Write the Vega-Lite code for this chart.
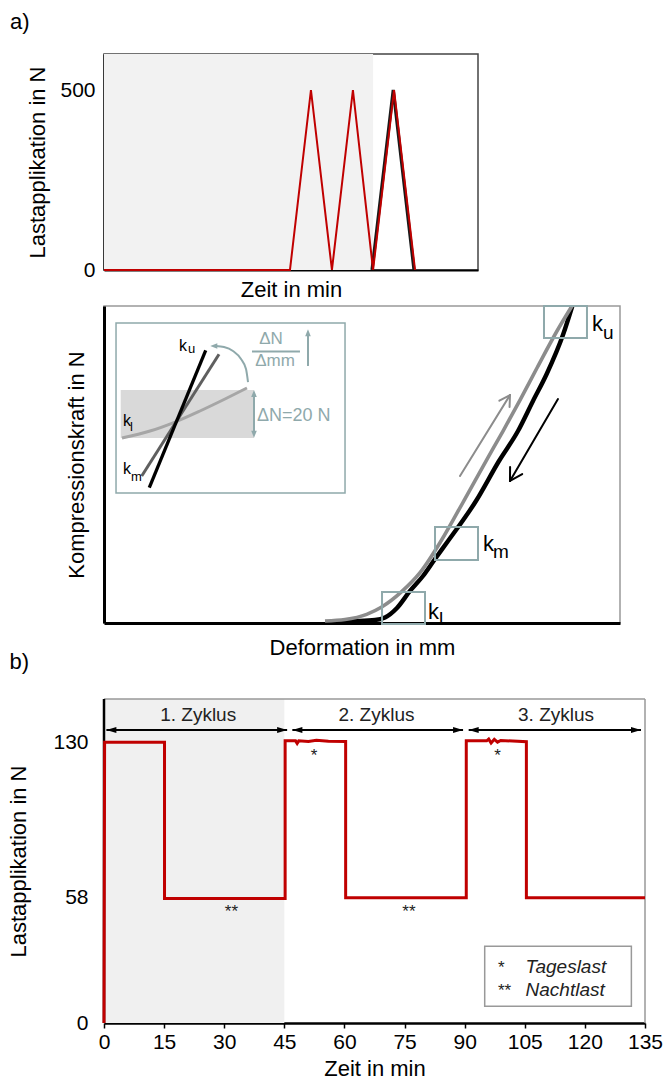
{
  "$schema": "https://vega.github.io/schema/vega-lite/v6.json",
  "background": "white",
  "padding": {"left": 7, "top": 10, "right": 5, "bottom": 0},
  "bounds": "flush",
  "spacing": 36,
  "resolve": {"scale": {"shape": "independent", "color": "independent"}},
  "config": {
    "font": "Liberation Sans",
    "axis": {
      "labelFont": "Liberation Sans",
      "titleFont": "Liberation Sans",
      "labelFontSize": 21,
      "titleFontSize": 22,
      "titleFontWeight": "normal",
      "labelColor": "#000",
      "titleColor": "#000",
      "domainColor": "#000",
      "grid": false
    },
    "text": {"font": "Liberation Sans", "color": "#000"}
  },
  "vconcat": [
    {
      "width": 374,
      "height": 216,
      "view": {"stroke": "#444", "strokeWidth": 1.5},
      "layer": [
        {
          "data": {"values": [{"t0": 0, "t1": 12.95, "F0": 0, "F1": 600}]},
          "mark": {"type": "rect", "color": "#f2f2f2"},
          "encoding": {
            "x": {"field": "t0", "type": "quantitative", "scale": {"domain": [0, 18], "nice": false, "zero": false},
              "axis": {"title": "Zeit in min", "labels": false, "ticks": false, "domainWidth": 2, "titlePadding": 9}},
            "x2": {"field": "t1"},
            "y": {"field": "F0", "type": "quantitative", "scale": {"domain": [0, 600], "nice": false},
              "axis": {"title": "Lastapplikation in N", "values": [0, 500], "ticks": false, "labelPadding": 9, "domainWidth": 2, "titlePadding": 10}},
            "y2": {"field": "F1"}
          }
        },
        {
          "data": {"values": [
            {"t": 12.9, "F": 0}, {"t": 13.92, "F": 500}, {"t": 14.92, "F": 0}
          ]},
          "mark": {"type": "line", "color": "#1a1a1a", "strokeWidth": 3.2},
          "encoding": {
            "x": {"field": "t", "type": "quantitative"},
            "y": {"field": "F", "type": "quantitative"}
          }
        },
        {
          "data": {"values": [
            {"t": 0, "F": 0}, {"t": 8.95, "F": 0}, {"t": 9.96, "F": 500}, {"t": 10.97, "F": 0},
            {"t": 11.98, "F": 500}, {"t": 12.95, "F": 0}, {"t": 13.96, "F": 500}, {"t": 14.97, "F": 0}
          ]},
          "mark": {"type": "line", "color": "#c00000", "strokeWidth": 2},
          "encoding": {
            "x": {"field": "t", "type": "quantitative"},
            "y": {"field": "F", "type": "quantitative"}
          }
        },
        {
          "data": {"values": [{"t": -4.52, "F": 689, "label": "a)"}]},
          "mark": {"type": "text", "align": "left", "baseline": "middle", "fontSize": 22},
          "encoding": {
            "x": {"field": "t", "type": "quantitative"},
            "y": {"field": "F", "type": "quantitative"},
            "text": {"field": "label"}
          }
        }
      ]
    },
    {
      "width": 516,
      "height": 317,
      "view": {"stroke": "#999", "strokeWidth": 1.5},
      "layer": [
        {
          "data": {"values": [{"d0": 0.233, "d1": 4.671, "F0": 205.0, "F1": 473.2}]},
          "mark": {"type": "rect", "fill": "white", "stroke": "#8fa9ab", "strokeWidth": 1.5},
          "encoding": {
            "x": {"field": "d0", "type": "quantitative", "scale": {"domain": [0, 10], "nice": false, "zero": false},
              "axis": {"title": "Deformation in mm", "labels": false, "ticks": false, "domainWidth": 3, "titlePadding": 14}},
            "x2": {"field": "d1"},
            "y": {"field": "F0", "type": "quantitative", "scale": {"domain": [0, 500], "nice": false},
              "axis": {"title": "Kompressionskraft in N", "labels": false, "ticks": false, "domainWidth": 3, "titlePadding": 16}},
            "y2": {"field": "F1"}
          }
        },
        {
          "data": {"values": [{"d0": 0.324, "d1": 2.907, "F0": 291.8, "F1": 367.5}]},
          "mark": {"type": "rect", "color": "#d9d9d9"},
          "encoding": {
            "x": {"field": "d0", "type": "quantitative"},
            "x2": {"field": "d1"},
            "y": {"field": "F0", "type": "quantitative"},
            "y2": {"field": "F1"}
          }
        },
        {
          "data": {"values": [
            {"d": 0.349, "F": 291.8}, {"d": 0.891, "F": 302.8}, {"d": 1.376, "F": 317.0},
            {"d": 1.860, "F": 334.4}, {"d": 2.345, "F": 353.3}, {"d": 2.771, "F": 370.7}
          ]},
          "mark": {"type": "line", "color": "#a6a6a6", "strokeWidth": 3, "interpolate": "monotone"},
          "encoding": {
            "x": {"field": "d", "type": "quantitative"},
            "y": {"field": "F", "type": "quantitative"}
          }
        },
        {
          "data": {"values": [{"d": 0.731, "F": 231.9}, {"d": 2.229, "F": 423.8}]},
          "mark": {"type": "line", "color": "#5f5f5f", "strokeWidth": 3},
          "encoding": {
            "x": {"field": "d", "type": "quantitative"},
            "y": {"field": "F", "type": "quantitative"}
          }
        },
        {
          "data": {"values": [{"d": 0.878, "F": 213.4}, {"d": 1.971, "F": 430.1}]},
          "mark": {"type": "line", "color": "#000", "strokeWidth": 3.3},
          "encoding": {
            "x": {"field": "d", "type": "quantitative"},
            "y": {"field": "F", "type": "quantitative"}
          }
        },
        {
          "data": {"values": [
            {"d": 2.791, "F": 380.1}, {"d": 2.752, "F": 400.6}, {"d": 2.655, "F": 416.4},
            {"d": 2.5, "F": 429.0}, {"d": 2.326, "F": 435.3}, {"d": 2.171, "F": 436.9}
          ]},
          "mark": {"type": "line", "color": "#8fa9ab", "strokeWidth": 2, "interpolate": "monotone"},
          "encoding": {
            "x": {"field": "d", "type": "quantitative"},
            "y": {"field": "F", "type": "quantitative"}
          }
        },
        {
          "data": {"values": [
            {"d0": 3.953, "d1": 3.953, "F0": 405.4, "F1": 454.3},
            {"d0": 2.907, "d1": 2.907, "F0": 301.3, "F1": 358.0},
            {"d0": 2.868, "d1": 3.798, "F0": 428.2, "F1": 428.2}
          ]},
          "mark": {"type": "rule", "color": "#8fa9ab", "strokeWidth": 2},
          "encoding": {
            "x": {"field": "d0", "type": "quantitative"},
            "x2": {"field": "d1"},
            "y": {"field": "F0", "type": "quantitative"},
            "y2": {"field": "F1"}
          }
        },
        {
          "data": {"values": [
            {"d": 2.06, "F": 436.9, "richtung": "links"},
            {"d": 3.953, "F": 463.2, "richtung": "oben"},
            {"d": 2.907, "F": 367.5, "richtung": "oben"},
            {"d": 2.907, "F": 292.3, "richtung": "unten"}
          ]},
          "mark": {"type": "point", "filled": true, "color": "#8fa9ab", "opacity": 1, "strokeWidth": 0, "size": 49},
          "encoding": {
            "x": {"field": "d", "type": "quantitative"},
            "y": {"field": "F", "type": "quantitative"},
            "shape": {"field": "richtung", "type": "nominal", "legend": null,
              "scale": {"domain": ["links", "oben", "unten"],
                "range": ["M0,0L2,-0.8L2,0.8Z", "M0,0L-0.8,2L0.8,2Z", "M0,0L-0.8,-2L0.8,-2Z"]}}
          }
        },
        {
          "data": {"values": [
            {"d": 3.236, "F": 439.6, "label": "ΔN"},
            {"d": 3.314, "F": 405.4, "label": "Δmm"}
          ]},
          "mark": {"type": "text", "align": "center", "baseline": "alphabetic", "fontSize": 17, "color": "#8fa9ab"},
          "encoding": {
            "x": {"field": "d", "type": "quantitative"},
            "y": {"field": "F", "type": "quantitative"},
            "text": {"field": "label"}
          }
        },
        {
          "data": {"values": [{"d": 2.965, "F": 318.6, "label": "ΔN=20 N"}]},
          "mark": {"type": "text", "align": "left", "baseline": "alphabetic", "fontSize": 18, "color": "#8fa9ab"},
          "encoding": {
            "x": {"field": "d", "type": "quantitative"},
            "y": {"field": "F", "type": "quantitative"},
            "text": {"field": "label"}
          }
        },
        {
          "data": {"values": [
            {"d": 1.453, "F": 429.0, "label": "k"},
            {"d": 0.368, "F": 310.7, "label": "k"},
            {"d": 0.368, "F": 235.0, "label": "k"}
          ]},
          "mark": {"type": "text", "align": "left", "baseline": "alphabetic", "fontSize": 16},
          "encoding": {
            "x": {"field": "d", "type": "quantitative"},
            "y": {"field": "F", "type": "quantitative"},
            "text": {"field": "label"}
          }
        },
        {
          "data": {"values": [
            {"d": 1.628, "F": 425.9, "label": "u"},
            {"d": 0.504, "F": 302.8, "label": "l"},
            {"d": 0.523, "F": 224.0, "label": "m"}
          ]},
          "mark": {"type": "text", "align": "left", "baseline": "alphabetic", "fontSize": 13},
          "encoding": {
            "x": {"field": "d", "type": "quantitative"},
            "y": {"field": "F", "type": "quantitative"},
            "text": {"field": "label"}
          }
        },
        {
          "data": {"values": [
            {"d": 4.380, "F": 2.4}, {"d": 4.864, "F": 3.2}, {"d": 5.252, "F": 4.7}, {"d": 5.446, "F": 8.7},
            {"d": 5.678, "F": 23.7}, {"d": 5.930, "F": 50.5}, {"d": 6.182, "F": 74.1}, {"d": 6.415, "F": 101.0},
            {"d": 6.667, "F": 129.3}, {"d": 7.209, "F": 192.4}, {"d": 7.655, "F": 255.5}, {"d": 8.023, "F": 302.8},
            {"d": 8.314, "F": 350.2}, {"d": 8.579, "F": 392.7}, {"d": 8.901, "F": 455.8}, {"d": 9.076, "F": 500.0}
          ]},
          "mark": {"type": "line", "color": "#000", "strokeWidth": 4.4, "interpolate": "monotone"},
          "encoding": {
            "x": {"field": "d", "type": "quantitative"},
            "y": {"field": "F", "type": "quantitative"}
          }
        },
        {
          "data": {"values": [
            {"d": 4.283, "F": 3.2}, {"d": 4.671, "F": 5.5}, {"d": 5.091, "F": 13.7}, {"d": 5.382, "F": 25.2},
            {"d": 5.769, "F": 49.4}, {"d": 6.124, "F": 79.3}, {"d": 6.531, "F": 129.3}, {"d": 6.971, "F": 192.4},
            {"d": 7.403, "F": 255.5}, {"d": 7.733, "F": 302.8}, {"d": 8.062, "F": 351.7}, {"d": 8.391, "F": 402.2},
            {"d": 8.779, "F": 460.6}, {"d": 9.070, "F": 500.0}
          ]},
          "mark": {"type": "line", "color": "#8c8c8c", "strokeWidth": 3.6, "interpolate": "monotone"},
          "encoding": {
            "x": {"field": "d", "type": "quantitative"},
            "y": {"field": "F", "type": "quantitative"}
          }
        },
        {
          "data": {"values": [
            {"pfeil": "Belastung", "d0": 6.899, "F0": 231.9, "d1": 7.868, "F1": 359.6},
            {"pfeil": "Belastung", "d0": 7.663, "F0": 350.6, "d1": 7.868, "F1": 359.6},
            {"pfeil": "Belastung", "d0": 7.860, "F0": 340.7, "d1": 7.868, "F1": 359.6},
            {"pfeil": "Entlastung", "d0": 8.798, "F0": 353.3, "d1": 7.868, "F1": 224.0},
            {"pfeil": "Entlastung", "d0": 8.105, "F0": 234.9, "d1": 7.868, "F1": 224.0},
            {"pfeil": "Entlastung", "d0": 7.870, "F0": 246.1, "d1": 7.868, "F1": 224.0}
          ]},
          "mark": {"type": "rule", "strokeWidth": 2, "strokeCap": "round"},
          "encoding": {
            "x": {"field": "d0", "type": "quantitative"},
            "x2": {"field": "d1"},
            "y": {"field": "F0", "type": "quantitative"},
            "y2": {"field": "F1"},
            "color": {"field": "pfeil", "type": "nominal", "legend": null,
              "scale": {"domain": ["Belastung", "Entlastung"], "range": ["#8c8c8c", "#000"]}}
          }
        },
        {
          "data": {"values": [
            {"d0": 5.388, "d1": 6.221, "F0": -1.5, "F1": 48.9},
            {"d0": 6.415, "d1": 7.248, "F0": 99.4, "F1": 151.4},
            {"d0": 8.527, "d1": 9.360, "F0": 449.5, "F1": 500}
          ]},
          "mark": {"type": "rect", "fill": "transparent", "stroke": "#8fa9ab", "strokeWidth": 2},
          "encoding": {
            "x": {"field": "d0", "type": "quantitative"},
            "x2": {"field": "d1"},
            "y": {"field": "F0", "type": "quantitative"},
            "y2": {"field": "F1"}
          }
        },
        {
          "data": {"values": [
            {"d": 6.279, "F": 6.3, "label": "k"},
            {"d": 7.345, "F": 113.6, "label": "k"},
            {"d": 9.457, "F": 460.6, "label": "k"}
          ]},
          "mark": {"type": "text", "align": "left", "baseline": "alphabetic", "fontSize": 22},
          "encoding": {
            "x": {"field": "d", "type": "quantitative"},
            "y": {"field": "F", "type": "quantitative"},
            "text": {"field": "label"}
          }
        },
        {
          "data": {"values": [
            {"d": 6.492, "F": -3.2, "label": "l"},
            {"d": 7.539, "F": 102.5, "label": "m"},
            {"d": 9.671, "F": 448.0, "label": "u"}
          ]},
          "mark": {"type": "text", "align": "left", "baseline": "alphabetic", "fontSize": 19},
          "encoding": {
            "x": {"field": "d", "type": "quantitative"},
            "y": {"field": "F", "type": "quantitative"},
            "text": {"field": "label"}
          }
        }
      ]
    },
    {
      "width": 541,
      "height": 364,
      "view": {"stroke": null},
      "layer": [
        {
          "data": {"values": [{"t0": 0, "t1": 45, "N0": 0, "N1": 150}]},
          "mark": {"type": "rect", "color": "#f0f0f0"},
          "encoding": {
            "x": {"field": "t0", "type": "quantitative", "scale": {"domain": [0, 135], "nice": false},
              "axis": {"values": [0, 15, 30, 45, 60, 75, 90, 105, 120, 135], "title": "Zeit in min",
                "tickSize": 5, "tickWidth": 1.5, "tickColor": "#000", "domainWidth": 2.5,
                "labelPadding": 3, "labelFlush": false, "labelOverlap": false, "titlePadding": 6}},
            "x2": {"field": "t1"},
            "y": {"field": "N0", "type": "quantitative", "scale": {"domain": [0, 168.5], "nice": false},
              "axis": {"values": [0, 58, 130], "title": "Lastapplikation in N", "ticks": false, "domain": false,
                "labelPadding": 16, "titlePadding": 22, "titleY": 202}},
            "y2": {"field": "N1"}
          }
        },
        {
          "data": {"values": [
            {"t0": 0, "t1": 135, "N0": 150, "N1": 150},
            {"t0": 135, "t1": 135, "N0": 0, "N1": 150}
          ]},
          "mark": {"type": "rule", "color": "#999", "strokeWidth": 1.5},
          "encoding": {
            "x": {"field": "t0", "type": "quantitative"},
            "x2": {"field": "t1"},
            "y": {"field": "N0", "type": "quantitative"},
            "y2": {"field": "N1"}
          }
        },
        {
          "data": {"values": [{"t0": 0, "t1": 0, "N0": 0, "N1": 150}]},
          "mark": {"type": "rule", "color": "#000", "strokeWidth": 2.5},
          "encoding": {
            "x": {"field": "t0", "type": "quantitative"},
            "x2": {"field": "t1"},
            "y": {"field": "N0", "type": "quantitative"},
            "y2": {"field": "N1"}
          }
        },
        {
          "data": {"values": [
            {"i": 0, "t": 0, "N": 0}, {"i": 1, "t": 0.15, "N": 130}, {"i": 2, "t": 15.1, "N": 130},
            {"i": 3, "t": 15.1, "N": 57.6}, {"i": 4, "t": 45.2, "N": 57.6}, {"i": 5, "t": 45.2, "N": 130.6},
            {"i": 6, "t": 47.8, "N": 130.6}, {"i": 7, "t": 48.2, "N": 129.4}, {"i": 8, "t": 48.6, "N": 130.6},
            {"i": 9, "t": 51, "N": 130.3}, {"i": 10, "t": 53, "N": 130.9}, {"i": 11, "t": 56, "N": 130.4},
            {"i": 12, "t": 60.3, "N": 130.3}, {"i": 13, "t": 60.3, "N": 58}, {"i": 14, "t": 90.4, "N": 58},
            {"i": 15, "t": 90.4, "N": 130.6}, {"i": 16, "t": 95.5, "N": 130.6}, {"i": 17, "t": 96, "N": 131.4},
            {"i": 18, "t": 96.6, "N": 129.6}, {"i": 19, "t": 97.4, "N": 131.3}, {"i": 20, "t": 98.2, "N": 130},
            {"i": 21, "t": 99, "N": 130.8}, {"i": 22, "t": 102, "N": 130.5}, {"i": 23, "t": 105.4, "N": 130.2},
            {"i": 24, "t": 105.4, "N": 58}, {"i": 25, "t": 135, "N": 58}
          ]},
          "mark": {"type": "line", "color": "#c00000", "strokeWidth": 3, "strokeJoin": "miter"},
          "encoding": {
            "x": {"field": "t", "type": "quantitative"},
            "y": {"field": "N", "type": "quantitative"},
            "order": {"field": "i", "type": "quantitative"}
          }
        },
        {
          "data": {"values": [
            {"von": 0.6, "bis": 45.7, "N": 135.6},
            {"von": 47, "bis": 89.6, "N": 135.6},
            {"von": 91, "bis": 134, "N": 135.6}
          ]},
          "mark": {"type": "rule", "color": "#000", "strokeWidth": 2},
          "encoding": {
            "x": {"field": "von", "type": "quantitative"},
            "x2": {"field": "bis"},
            "y": {"field": "N", "type": "quantitative"}
          }
        },
        {
          "data": {"values": [
            {"von": 0.6, "bis": 45.7, "N": 135.6},
            {"von": 47, "bis": 89.6, "N": 135.6},
            {"von": 91, "bis": 134, "N": 135.6}
          ]},
          "transform": [{"fold": ["von", "bis"], "as": ["ende", "t"]}],
          "mark": {"type": "point", "filled": true, "color": "#000", "opacity": 1, "strokeWidth": 0, "size": 100},
          "encoding": {
            "x": {"field": "t", "type": "quantitative"},
            "y": {"field": "N", "type": "quantitative"},
            "shape": {"field": "ende", "type": "nominal", "legend": null,
              "scale": {"domain": ["von", "bis"], "range": ["M0,0L2,-0.6L2,0.6Z", "M0,0L-2,-0.6L-2,0.6Z"]}}
          }
        },
        {
          "data": {"values": [
            {"t": 23.5, "N": 139.7, "label": "1. Zyklus"},
            {"t": 68, "N": 139.7, "label": "2. Zyklus"},
            {"t": 112.8, "N": 139.7, "label": "3. Zyklus"}
          ]},
          "mark": {"type": "text", "align": "center", "baseline": "alphabetic", "fontSize": 19, "color": "#222"},
          "encoding": {
            "x": {"field": "t", "type": "quantitative"},
            "y": {"field": "N", "type": "quantitative"},
            "text": {"field": "label"}
          }
        },
        {
          "data": {"values": [
            {"t": 52.4, "N": 121.2, "label": "*"},
            {"t": 98.2, "N": 121.2, "label": "*"},
            {"t": 31.8, "N": 49.3, "label": "**"},
            {"t": 76.1, "N": 49.3, "label": "**"}
          ]},
          "mark": {"type": "text", "align": "center", "baseline": "alphabetic", "fontSize": 17, "color": "#222"},
          "encoding": {
            "x": {"field": "t", "type": "quantitative"},
            "y": {"field": "N", "type": "quantitative"},
            "text": {"field": "label"}
          }
        },
        {
          "data": {"values": [{"t0": 95.0, "t1": 131.6, "N0": 7.7, "N1": 35.5}]},
          "mark": {"type": "rect", "fill": "white", "stroke": "#999", "strokeWidth": 1.5},
          "encoding": {
            "x": {"field": "t0", "type": "quantitative"},
            "x2": {"field": "t1"},
            "y": {"field": "N0", "type": "quantitative"},
            "y2": {"field": "N1"}
          }
        },
        {
          "data": {"values": [
            {"t": 98.3, "N": 23.2, "label": "*"},
            {"t": 98.3, "N": 12.4, "label": "**"}
          ]},
          "mark": {"type": "text", "align": "left", "baseline": "alphabetic", "fontSize": 17, "color": "#222"},
          "encoding": {
            "x": {"field": "t", "type": "quantitative"},
            "y": {"field": "N", "type": "quantitative"},
            "text": {"field": "label"}
          }
        },
        {
          "data": {"values": [
            {"t": 105.2, "N": 23.2, "label": "Tageslast"},
            {"t": 105.2, "N": 12.4, "label": "Nachtlast"}
          ]},
          "mark": {"type": "text", "align": "left", "baseline": "alphabetic", "fontSize": 19, "fontStyle": "italic", "color": "#222"},
          "encoding": {
            "x": {"field": "t", "type": "quantitative"},
            "y": {"field": "N", "type": "quantitative"},
            "text": {"field": "label"}
          }
        },
        {
          "data": {"values": [{"t": -23.6, "N": 167, "label": "b)"}]},
          "mark": {"type": "text", "align": "left", "baseline": "middle", "fontSize": 22},
          "encoding": {
            "x": {"field": "t", "type": "quantitative"},
            "y": {"field": "N", "type": "quantitative"},
            "text": {"field": "label"}
          }
        }
      ]
    }
  ]
}
